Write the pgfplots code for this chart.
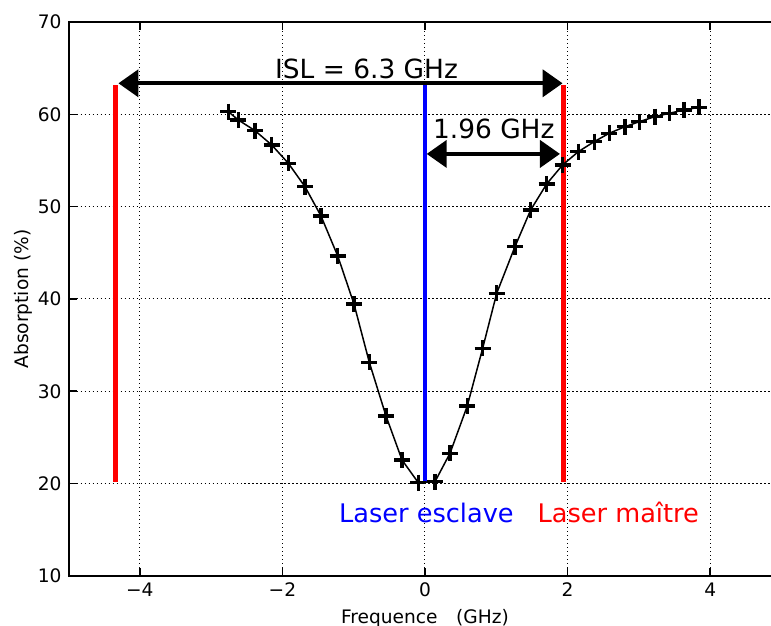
\documentclass[border=0pt]{standalone}
\usepackage{fontspec}
\setmainfont{DejaVu Sans}
\usepackage{pgfplots}
\pgfplotsset{compat=1.18}
\usetikzlibrary{arrows.meta}
\begin{document}
\begin{tikzpicture}
\begin{axis}[
  scale only axis, width=356.5pt, height=277pt,
  xmin=-5, xmax=5, ymin=10, ymax=70,
  clip=false,
  xtick={-4,-2,0,2,4}, xticklabels={−4,−2,0,2,4},
  ytick={10,20,30,40,50,60,70},
  font=\fontsize{9.3}{11}\selectfont,
  /pgf/number format/assume math mode=true,
  grid=major,
  major grid style={black, line width=0.5pt, dash pattern=on 0.7pt off 1.3pt},
  axis line style={line width=1pt},
  tick style={black, line width=0.8pt},
  major tick length=4pt, tick align=inside,
  xlabel={Frequence\hspace{1em}(GHz)},
  ylabel={Absorption (\%)},
  xlabel style={at={(axis description cs:0.5,0)}, anchor=base, inner sep=0pt, yshift=-23.75pt},
  ylabel style={at={(axis description cs:-0.0498,0.5)}, anchor=south, inner sep=0pt},
]
\addplot[red, line width=2.5pt] coordinates {(-4.338,20.2) (-4.338,63.2)};
\addplot[red, line width=2.5pt] coordinates {(1.94,20.2) (1.94,63.2)};
\addplot[blue, line width=2.2pt] coordinates {(0,20.2) (0,63.2)};
\addplot[black, line width=0.75pt, mark=+, mark size=4pt, mark options={line width=1.6pt}] coordinates {
(-2.759,60.29) (-2.619,59.39) (-2.384,58.23) (-2.150,56.68) (-1.917,54.70)
(-1.683,52.16) (-1.459,48.99) (-1.224,44.66) (-0.996,39.46) (-0.781,33.14)
(-0.547,27.33) (-0.322,22.56) (-0.094,20.10) (0.140,20.21) (0.351,23.29)
(0.593,28.41) (0.809,34.66) (1.006,40.62) (1.262,45.67) (1.482,49.64)
(1.707,52.46) (1.931,54.52) (2.150,55.95) (2.374,57.04) (2.585,57.95)
(2.805,58.66) (3.006,59.20) (3.226,59.75) (3.426,60.11) (3.633,60.47)
(3.843,60.76)
};
\addplot[black, line width=2pt, {Triangle[length=10pt,width=13.5pt]}-{Triangle[length=10pt,width=13.5pt]}] coordinates {(-4.30,63.36) (1.93,63.36)};
\addplot[black, line width=2pt, {Triangle[length=10pt,width=13.5pt]}-{Triangle[length=10pt,width=13.5pt]}] coordinates {(0.024,55.71) (1.893,55.71)};
\node[anchor=base, inner sep=0pt, font=\fontsize{13.2}{15}\selectfont] at (axis cs:-0.82,63.9) {ISL = 6.3 GHz};
\node[anchor=base, inner sep=0pt, font=\fontsize{13.2}{15}\selectfont] at (axis cs:0.965,57.41) {1.96 GHz};
\node[anchor=base, inner sep=0pt, text=blue, font=\fontsize{12.8}{15}\selectfont] at (axis cs:0.02,15.77) {Laser esclave};
\node[anchor=base, inner sep=0pt, text=red, font=\fontsize{12.8}{15}\selectfont] at (axis cs:2.711,15.77) {Laser maître};
\coordinate (bbsw) at (axis cs:-5.961,4.585);
\coordinate (bbne) at (axis cs:4.853,72.383);
\end{axis}
\pgfresetboundingbox
\useasboundingbox (bbsw) rectangle (bbne);
\end{tikzpicture}
\end{document}
